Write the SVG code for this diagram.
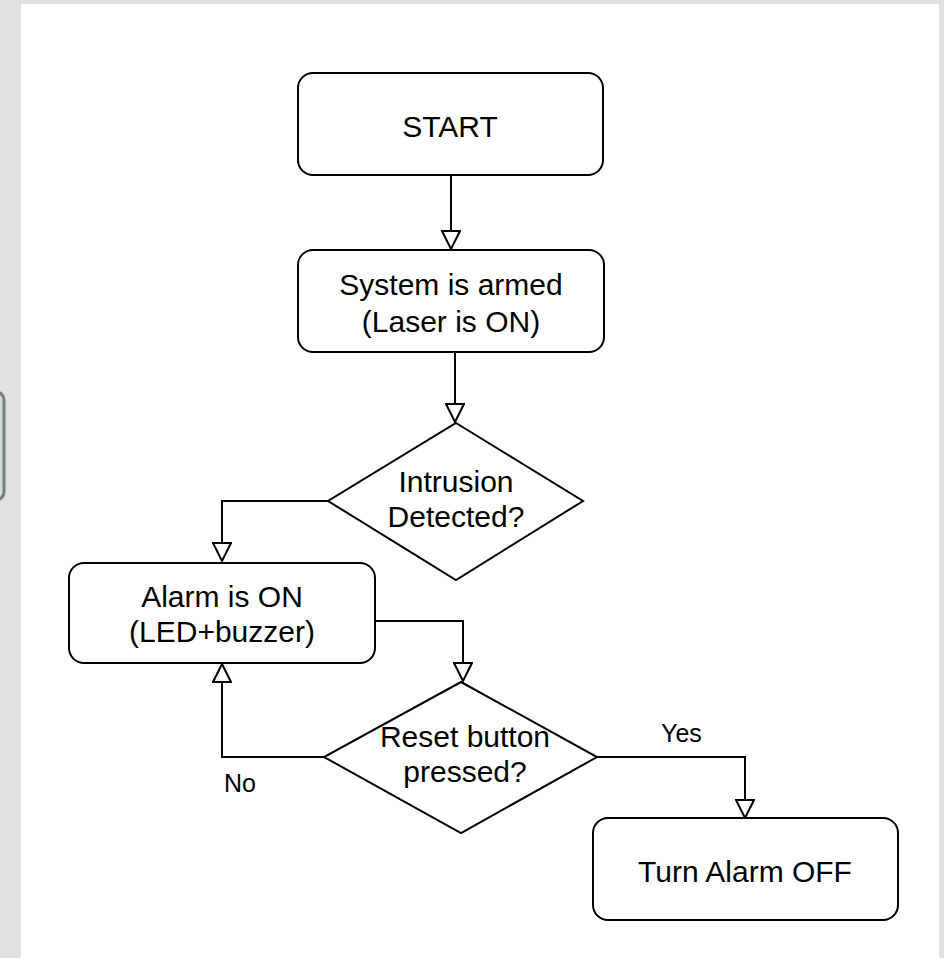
<svg xmlns="http://www.w3.org/2000/svg" width="944" height="958" viewBox="0 0 944 958">
  <style>
    .node { fill: #ffffff; stroke: #000000; stroke-width: 2; }
    .edge { fill: none; stroke: #000000; stroke-width: 2; }
    .txt { font-family: "Liberation Sans", Arial, sans-serif; font-size: 30px; fill: #000000; text-anchor: middle; }
    .lbl { font-family: "Liberation Sans", Arial, sans-serif; font-size: 25px; fill: #000000; }
  </style>
  <defs>
    <marker id="tri" viewBox="0 0 20 20" refX="19" refY="10" markerWidth="20" markerHeight="20" markerUnits="userSpaceOnUse" orient="auto">
      <path d="M1,1 L19,10 L1,19 Z" fill="#ffffff" stroke="#000000" stroke-width="2" stroke-linejoin="miter"/>
    </marker>
  </defs>

  <!-- page backdrop -->
  <rect x="0" y="0" width="944" height="958" fill="#e1e1e1"/>
  <rect x="-20" y="392" width="24" height="108" rx="8" fill="#d5d8d6" stroke="#6e817a" stroke-width="3"/>
  <rect x="21" y="4" width="918" height="954" fill="#ffffff"/>

  <g id="connectors">
    <path class="edge" d="M451,175 L451,249" marker-end="url(#tri)"/>
    <path class="edge" d="M455,352 L455,422" marker-end="url(#tri)"/>
    <path class="edge" d="M328,501 L222,501 L222,561" marker-end="url(#tri)"/>
    <path class="edge" d="M375,621 L463,621 L463,681" marker-end="url(#tri)"/>
    <path class="edge" d="M324,757 L222,757 L222,664" marker-end="url(#tri)"/>
    <path class="edge" d="M597,757 L745,757 L745,818" marker-end="url(#tri)"/>
    <text class="lbl" x="224" y="792">No</text>
    <text class="lbl" x="661" y="742">Yes</text>
  </g>

  <g id="start">
    <rect class="node" x="298" y="73" width="305" height="102" rx="15"/>
    <text class="txt" x="450" y="137">START</text>
  </g>

  <g id="armed">
    <rect class="node" x="298" y="250" width="306" height="102" rx="15"/>
    <text class="txt" x="451" y="295">System is armed</text>
    <text class="txt" x="451" y="332">(Laser is ON)</text>
  </g>

  <g id="intrusion">
    <polygon class="node" points="456,423 583,501 456,580 328,501"/>
    <text class="txt" x="456" y="492">Intrusion</text>
    <text class="txt" x="456" y="527">Detected?</text>
  </g>

  <g id="alarm">
    <rect class="node" x="69" y="563" width="306" height="100" rx="15"/>
    <text class="txt" x="222" y="607">Alarm is ON</text>
    <text class="txt" x="222" y="642">(LED+buzzer)</text>
  </g>

  <g id="reset">
    <polygon class="node" points="461,682 597,757 461,833 324,757"/>
    <text class="txt" x="465" y="747">Reset button</text>
    <text class="txt" x="465" y="782">pressed?</text>
  </g>

  <g id="alarm-off">
    <rect class="node" x="593" y="818" width="305" height="102" rx="15"/>
    <text class="txt" x="745" y="882">Turn Alarm OFF</text>
  </g>
</svg>
